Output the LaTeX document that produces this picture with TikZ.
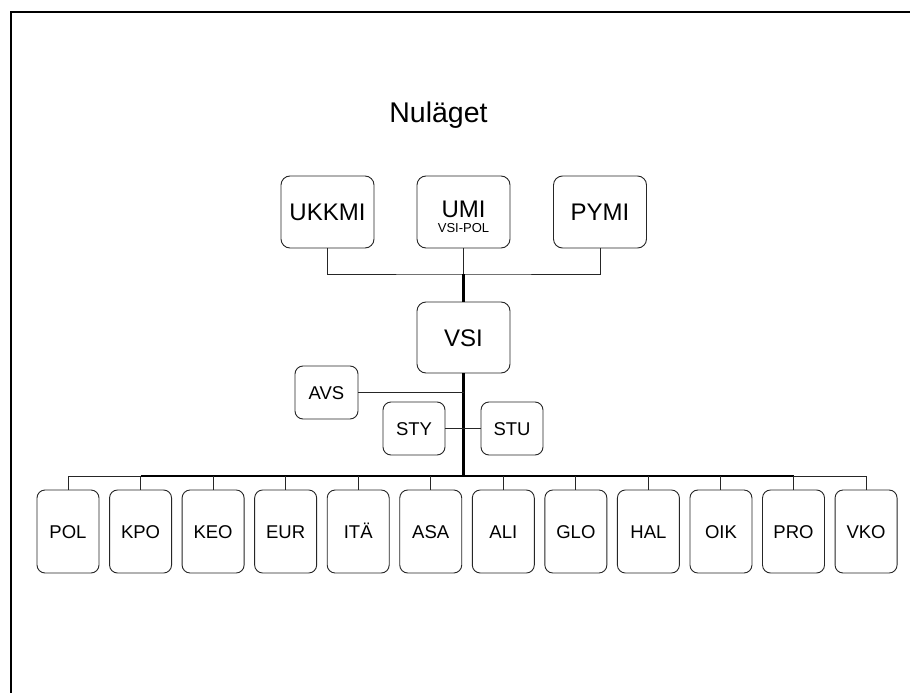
\documentclass[tikz,border=0pt]{standalone}
\usepackage{fontspec}
\setmainfont{Liberation Sans}
\begin{document}
\begin{tikzpicture}[x=1pt,y=-1pt,
  box/.style={draw=black!85, line width=0.9pt, rounded corners=9pt, inner sep=0pt, anchor=center},
  bigbox/.style={box, minimum width=93pt, minimum height=72pt, font=\fontsize{24}{24}\selectfont, text height=17pt, text depth=0pt},
  midbox/.style={box, minimum width=62pt, minimum height=53pt, rounded corners=8pt, font=\fontsize{18.5}{18.5}\selectfont, text height=13pt, text depth=0pt},
  unitbox/.style={box, minimum width=62pt, minimum height=83pt, rounded corners=8pt, font=\fontsize{18.5}{18.5}\selectfont, text height=14pt, text depth=0pt},
  thin/.style={draw=black!85, line width=1pt},
  trunk/.style={draw=black, line width=2.2pt}]
\clip (0,0) rectangle (910,693);
\fill[white] (0,0) rectangle (910,693);
\draw[line width=2pt] (11,12) rectangle (940,720);

\node[font=\fontsize{28.5}{28.5}\selectfont, anchor=base, inner sep=0pt] (title) at (438.5,122) {Nuläget};

\node[bigbox] (ukkmi) at (327.5,212) {UKKMI};
\node[bigbox] (umi) at (463.5,212) {};
\node[font=\fontsize{24}{24}\selectfont, inner sep=0pt, anchor=base] (umiA) at (463.5,217) {UMI};
\node[font=\fontsize{13}{13}\selectfont, inner sep=0pt, anchor=base] (umiB) at (463.5,232.5) {VSI-POL};
\node[bigbox] (pymi) at (600,212) {PYMI};
\node[bigbox, minimum height=71pt] (vsi) at (463.5,337.5) {VSI};

\node[midbox, minimum width=63pt] (avs) at (326.5,392.5) {AVS};
\node[midbox] (sty) at (414,428.5) {STY};
\node[midbox] (stu) at (512,428.5) {STU};

\coordinate (top) at (463.5,274);
\coordinate (bus) at (463.5,476);

\foreach \n [count=\i from 0] in {POL,KPO,KEO,EUR,ITÄ,ASA,ALI,GLO,HAL,OIK,PRO,VKO}{
  \node[unitbox] (u\i) at ({68+\i*72.55},531.5) {\n};
}

% top connectors
\draw[thin] (ukkmi.south) |- (top) -| (pymi.south);
\draw[thin] (umi.south) -- (top);
\draw[trunk] (top) -- (vsi.north);
\draw[trunk] (vsi.south) -- (bus);

% side branches
\draw[thin] (avs.east) -- (avs.east -| vsi.south);
\draw[thin] (sty.east) -- (stu.west);

% bus
\draw[thin] (u0.north |- bus) -- (u11.north |- bus);
\draw[line width=2pt] (u1.north |- bus) -- (u10.north |- bus);
\foreach \i in {0,...,11}{
  \draw[thin] (u\i.north |- bus) -- (u\i.north);
}
\end{tikzpicture}
\end{document}
